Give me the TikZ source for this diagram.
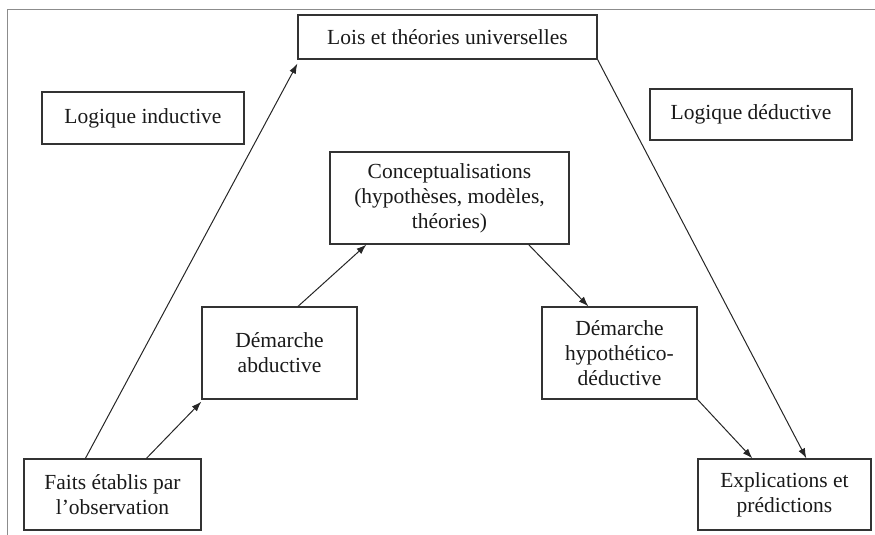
\documentclass[tikz,border=0pt]{standalone}
\usepackage{fontspec}
\setmainfont{Liberation Serif}
\usetikzlibrary{arrows.meta}
\begin{document}
\begin{tikzpicture}[x=1pt,y=-1pt,
  box/.style={draw=black!80, line width=1.2pt, rectangle, inner sep=0pt, align=center,
    font=\fontsize{21.5}{25}\selectfont, text=black!90},
  arr/.style={draw=black!85, line width=1pt, -{Latex[length=10pt,width=7pt]}},
  frame/.style={draw=black!45, line width=1pt}]
\useasboundingbox (0,0) rectangle (875,535);
\draw[frame] (7,535) -- (7,10) -- (875,10);
\node[box, minimum width=299pt, minimum height=44pt] (lois) at (447.5,37) {Lois et théories universelles};
\node[box, minimum width=202pt, minimum height=52pt] (ind) at (143,118) {Logique inductive};
\node[box, minimum width=202pt, minimum height=51pt] (ded) at (751,114.5) {Logique déductive};
\node[box, minimum width=239pt, minimum height=92pt] (conc) at (449.5,198) {Conceptualisations\\(hypothèses, modèles,\\théories)};
\node[box, minimum width=155pt, minimum height=92pt] (abd) at (279.5,353) {Démarche\\abductive};
\node[box, minimum width=155pt, minimum height=92pt] (hyp) at (619.5,353) {Démarche\\hypothético-\\déductive};
\node[box, minimum width=177pt, minimum height=71pt] (faits) at (112.5,494.5) {Faits établis par\\l’observation};
\node[box, minimum width=173pt, minimum height=71pt] (expl) at (784.5,494.5) {Explications et\\prédictions};
\draw[arr] ([xshift=62pt]faits.north west) -- ([yshift=-4pt]lois.south west);
\draw[arr] ([xshift=123pt]faits.north west) -- ([yshift=-2pt]abd.south west);
\draw[arr] ([xshift=18.5pt]abd.north) -- ([xshift=37pt]conc.south west);
\draw[arr] ([xshift=-41pt]conc.south east) -- ([xshift=47pt]hyp.north west);
\draw[arr] (hyp.south east) -- ([xshift=55pt]expl.north west);
\draw[arr] (lois.south east) -- ([xshift=109pt]expl.north west);
\end{tikzpicture}
\end{document}
